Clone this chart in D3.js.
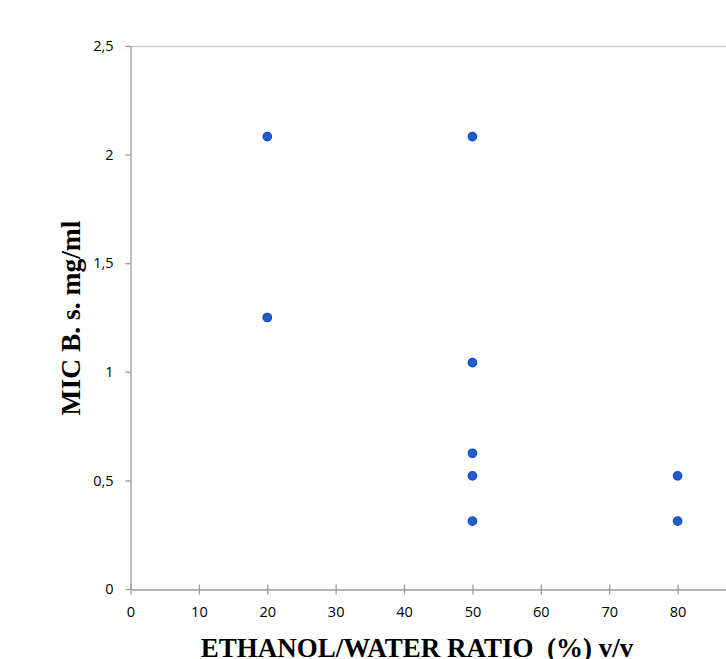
<!DOCTYPE html>
<html>
<head>
<meta charset="utf-8">
<script src="https://cdn.jsdelivr.net/npm/d3@7"></script>
<style>
  body { margin: 0; background: #fff; }
  svg { display: block; }
</style>
</head>
<body>
<svg id="chart" width="726" height="659"></svg>
<script>
// data
var ratio = [20, 20, 50, 50, 50, 50, 50, 80, 80];
var mic   = [2.083, 1.25, 2.083, 1.042, 0.625, 0.521, 0.3125, 0.521, 0.3125];
var xTicks = [0, 10, 20, 30, 40, 50, 60, 70, 80];
var yTicks = [0, 0.5, 1, 1.5, 2, 2.5];

var svg = d3.select("#chart");

var xScale = d3.scaleLinear().domain([0, 90]).range([130.5, 746]),
    yScale = d3.scaleLinear().domain([0, 2.5]).range([589, 46]);

// top border
svg.append("line")
    .attr("x1", 130).attr("x2", 726)
    .attr("y1", 46.5).attr("y2", 46.5)
    .attr("stroke", "#cfcfcf").attr("stroke-width", 1.5);

var fmt = function(d){ return String(d).replace(".", ","); };

// y axis
var gy = svg.append("g").attr("transform", "translate(130.5,0)")
    .call(d3.axisLeft(yScale).tickValues(yTicks).tickFormat(fmt).tickSize(5).tickSizeOuter(0).tickPadding(12));

// x axis (ticks crossing the line)
var gx = svg.append("g").attr("transform", "translate(0,589.5)")
    .call(d3.axisBottom(xScale).tickValues(xTicks).tickSize(5).tickSizeOuter(0).tickPadding(12));
gx.selectAll(".tick line").attr("y1", -5);

svg.selectAll(".domain, .tick line").attr("stroke", "#9a9a9a").attr("stroke-width", 1.3);
svg.selectAll(".tick text")
    .attr("fill", "#000")
    .style("font-family", "'Open Sans', sans-serif")
    .style("font-size", "14.5px");

// points
svg.selectAll(".pt").data(ratio)
    .enter().append("circle")
    .attr("class", "pt")
    .attr("cx", function(d){ return xScale(d); })
    .attr("cy", function(d, i){ return yScale(mic[i]); })
    .attr("r", 4.2)
    .attr("fill", "#2560b8")
    .attr("stroke", "#0a48e8")
    .attr("stroke-width", 1.3);

// axis titles
svg.append("text")
    .attr("transform", "rotate(-90)")
    .attr("x", -318)
    .attr("y", 80)
    .attr("text-anchor", "middle")
    .style("font-family", "'Liberation Serif', 'Times New Roman', serif")
    .style("font-weight", "bold")
    .style("font-size", "27.5px")
    .text("MIC B. s. mg/ml");

svg.append("text")
    .attr("x", 417)
    .attr("y", 657)
    .attr("text-anchor", "middle")
    .style("white-space", "pre")
    .style("font-family", "'Liberation Serif', 'Times New Roman', serif")
    .style("font-weight", "bold")
    .style("font-size", "27px")
    .text("ETHANOL/WATER RATIO  (%) v/v");
</script>
</body>
</html>
